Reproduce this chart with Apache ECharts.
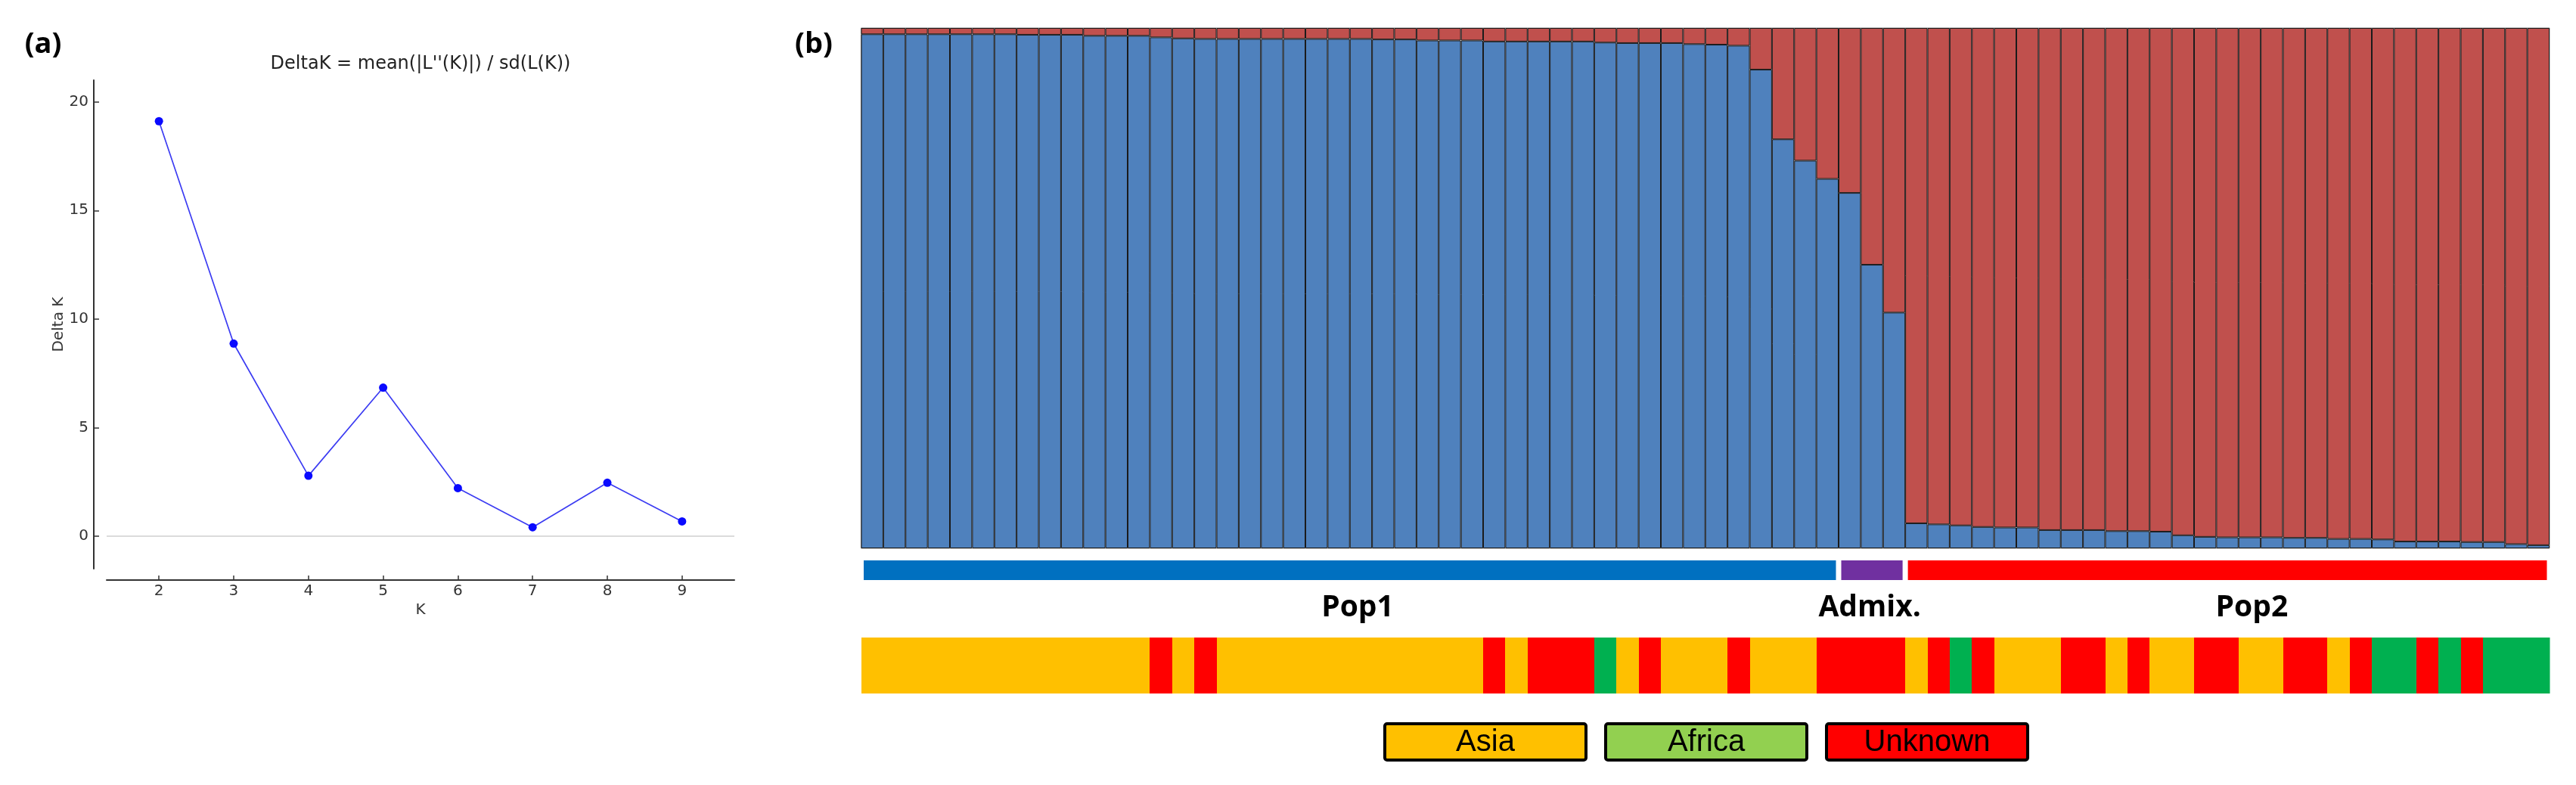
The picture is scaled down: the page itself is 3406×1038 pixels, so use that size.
<!DOCTYPE html>
<html><head><meta charset="utf-8">
<script src="https://cdn.jsdelivr.net/npm/echarts@6/dist/echarts.min.js"></script>
<style>html,body{margin:0;padding:0;background:#fff}#c{width:3406px;height:1038px}</style>
</head><body><div id="c"></div>
<script>
// ---------- Panel (a): Delta K ----------
const kValues = [2, 3, 4, 5, 6, 7, 8, 9];
const deltaK = [19.11, 8.87, 2.78, 6.84, 2.21, 0.41, 2.46, 0.68];
const deltaKTicks = [0, 5, 10, 15, 20];
const panelATitle = "DeltaK = mean(|L''(K)|) / sd(L(K))";

// ---------- Panel (b): STRUCTURE K=2 ----------
const sampleIds = Array.from({length: 76}, (_, i) => 'S' + (i + 1));
const cluster1 = [
  0.988,0.988,0.988,0.988,0.988,0.988,0.988,0.987,0.987,0.987,
  0.985,0.985,0.985,0.982,0.980,0.979,0.979,0.979,0.979,0.979,
  0.979,0.979,0.979,0.978,0.978,0.976,0.976,0.976,0.974,0.974,
  0.974,0.974,0.974,0.972,0.971,0.971,0.971,0.969,0.968,0.966,
  0.920,0.786,0.745,0.710,0.683,0.545,0.453,
  0.048,0.046,0.044,0.041,0.040,0.040,0.035,0.035,0.035,0.033,
  0.033,0.032,0.025,0.022,0.021,0.021,0.021,0.020,0.020,0.018,
  0.018,0.017,0.013,0.013,0.013,0.012,0.012,0.008,0.006
];
const cluster2 = [
  0.012,0.012,0.012,0.012,0.012,0.012,0.012,0.013,0.013,0.013,
  0.015,0.015,0.015,0.018,0.020,0.021,0.021,0.021,0.021,0.021,
  0.021,0.021,0.021,0.022,0.022,0.024,0.024,0.024,0.026,0.026,
  0.026,0.026,0.026,0.028,0.029,0.029,0.029,0.031,0.032,0.034,
  0.080,0.214,0.255,0.290,0.317,0.455,0.547,
  0.952,0.954,0.956,0.959,0.960,0.960,0.965,0.965,0.965,0.967,
  0.967,0.968,0.975,0.978,0.979,0.979,0.979,0.980,0.980,0.982,
  0.982,0.983,0.987,0.987,0.987,0.988,0.988,0.992,0.994
];
// A = Asia, F = Africa, U = Unknown
const origin = [
  'A','A','A','A','A','A','A','A','A','A','A','A','A','U','A','U',
  'A','A','A','A','A','A','A','A','A','A','A','A','U','A','U','U',
  'U','F','A','U','A','A','A','U','A','A','A','U','U','U','U','A',
  'U','F','U','A','A','A','U','U','A','U','A','A','U','U','A','A',
  'U','U','A','U','F','F','U','F','U','F','F','F'
];
const popGroups = ['Pop1', 'Admix.', 'Pop2'];
const popStart = [0, 44, 47];
const popEnd = [44, 47, 76];
const popLabelAt = [22.35, 45.4, 62.6];
const popColors = ['#0070C0', '#7030A0', '#FF0000'];
const originCodes = ['A', 'F', 'U'];
const originNames = ['Asia', 'Africa', 'Unknown'];
const stripColors = ['#FFC000', '#00B050', '#FF0000'];
const legendColors = ['#FFC000', '#92D050', '#FF0000'];

const chart = echarts.init(document.getElementById('c'));
const BL = 1138.5, BW = 2232.5;
const dv = 'DejaVu Sans';

const legendGraphics = [];
originNames.forEach((n, i) => {
  const x0 = 1831 + i * 292;
  legendGraphics.push({
    type: 'rect', shape: {x: x0, y: 957, width: 266, height: 48, r: 3},
    style: {fill: legendColors[i], stroke: '#000', lineWidth: 4}
  });
  legendGraphics.push({
    type: 'text', x: x0 + 133, y: 982,
    style: {text: n, font: '40px "Liberation Sans"', fill: '#000', textAlign: 'center', textVerticalAlign: 'middle'}
  });
});

const option = {
  animation: false,
  backgroundColor: '#fff',
  graphic: [
    {type: 'text', x: 57, y: 59, style: {text: '(a)', font: 'bold 38px "Open Sans"', fill: '#000', textAlign: 'center', textVerticalAlign: 'middle'}},
    {type: 'text', x: 1076, y: 59, style: {text: '(b)', font: 'bold 38px "Open Sans"', fill: '#000', textAlign: 'center', textVerticalAlign: 'middle'}},
    {type: 'text', x: 556, y: 85, style: {text: panelATitle, font: '24px "DejaVu Sans"', fill: '#222', textAlign: 'center', textVerticalAlign: 'middle'}}
  ].concat(legendGraphics),
  grid: [
    {left: 141, top: 106, width: 830, height: 646},
    {left: BL, top: 37, width: BW, height: 688, show: true, borderColor: '#8a8a8a', borderWidth: 1, backgroundColor: 'transparent'},
    {left: BL, top: 741, width: BW, height: 26},
    {left: BL, top: 843, width: BW, height: 74}
  ],
  xAxis: [
    {gridIndex: 0, type: 'value', min: 1.3, max: 9.7, offset: 15,
      axisLine: {show: true, onZero: false, lineStyle: {color: '#333', width: 2}},
      axisTick: {show: true, inside: true, length: 6, customValues: kValues, lineStyle: {color: '#333', width: 1.5}},
      axisLabel: {customValues: kValues, fontFamily: dv, fontSize: 20, color: '#333', margin: 5},
      splitLine: {show: false},
      name: 'K', nameLocation: 'middle', nameGap: 30, nameTextStyle: {fontFamily: dv, fontSize: 20, color: '#333'}},
    {gridIndex: 1, type: 'category', data: sampleIds, show: false},
    {gridIndex: 2, type: 'value', min: 0, max: 76, show: false},
    {gridIndex: 3, type: 'category', data: sampleIds, show: false}
  ],
  yAxis: [
    {gridIndex: 0, type: 'value', min: -1.5, max: 21, offset: 17,
      axisLine: {show: true, onZero: false, lineStyle: {color: '#333', width: 2}},
      axisTick: {show: true, inside: true, length: 7, customValues: deltaKTicks, lineStyle: {color: '#333', width: 1.5}},
      axisLabel: {customValues: deltaKTicks, fontFamily: dv, fontSize: 20, color: '#333', margin: 7},
      splitLine: {show: false},
      name: 'Delta K', nameLocation: 'middle', nameGap: 36, nameRotate: 90, nameTextStyle: {fontFamily: dv, fontSize: 20, color: '#333'}},
    {gridIndex: 1, type: 'value', min: 0, max: 1, show: false},
    {gridIndex: 2, type: 'value', min: 0, max: 1, show: false},
    {gridIndex: 3, type: 'value', min: 0, max: 1, show: false}
  ],
  series: [
    {type: 'line', xAxisIndex: 0, yAxisIndex: 0,
      data: kValues.map((k, i) => [k, deltaK[i]]),
      symbol: 'circle', symbolSize: 11,
      lineStyle: {color: '#3c3cf2', width: 1.7},
      itemStyle: {color: '#0a0aff'},
      markLine: {silent: true, symbol: 'none', label: {show: false},
        lineStyle: {color: '#cfcfcf', width: 1.5, type: 'solid'}, data: [{yAxis: 0}]},
      z: 5},
    {type: 'bar', xAxisIndex: 1, yAxisIndex: 1, stack: 'q', data: cluster1,
      barCategoryGap: '0%', itemStyle: {color: '#4F81BD', borderColor: '#1b1b1b', borderWidth: 1}},
    {type: 'bar', xAxisIndex: 1, yAxisIndex: 1, stack: 'q', data: cluster2,
      barCategoryGap: '0%', itemStyle: {color: '#C0504D', borderColor: '#1b1b1b', borderWidth: 1}},
    {type: 'custom', xAxisIndex: 2, yAxisIndex: 2,
      data: popGroups.map((n, i) => [popStart[i], popEnd[i], i]),
      renderItem: function (params, api) {
        const i = api.value(2);
        const s = api.coord([api.value(0), 1]);
        const e = api.coord([api.value(1), 0]);
        const lab = api.coord([popLabelAt[i], 0]);
        const inset = 3.5;
        return {type: 'group', children: [
          {type: 'rect', shape: {x: s[0] + inset, y: s[1], width: e[0] - s[0] - 2 * inset, height: e[1] - s[1]},
            style: {fill: popColors[i]}},
          {type: 'text', style: {text: popGroups[i], x: lab[0], y: lab[1] + 37,
            font: 'bold 39px "Open Sans"', fill: '#000', textAlign: 'center', textVerticalAlign: 'middle'}}
        ]};
      }},
    {type: 'custom', xAxisIndex: 3, yAxisIndex: 3,
      data: origin.map((c, i) => [i, originCodes.indexOf(c)]),
      renderItem: function (params, api) {
        const top = api.coord([api.value(0), 1]);
        const bot = api.coord([api.value(0), 0]);
        const w = api.size([1, 0])[0];
        const x0 = Math.round(top[0] - w / 2), x1 = Math.round(top[0] + w / 2);
        return {type: 'rect', shape: {x: x0, y: Math.round(top[1]), width: x1 - x0 + 0.5, height: Math.round(bot[1] - top[1])},
          style: {fill: stripColors[api.value(1)]}};
      }}
  ]
};
chart.setOption(option);
</script>
</body></html>
